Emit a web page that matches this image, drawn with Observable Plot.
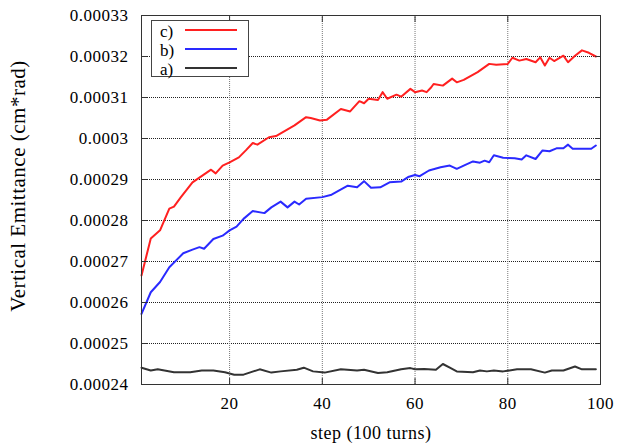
<!DOCTYPE html>
<html><head><meta charset="utf-8">
<script src="https://cdn.jsdelivr.net/npm/d3@7"></script>
<script src="https://cdn.jsdelivr.net/npm/@observablehq/plot@0.6"></script>
<style>
body{margin:0;background:#fff;}
#wrap{position:relative;width:618px;height:448px;}
#legend{position:absolute;left:151px;top:20px;width:96px;height:55px;border:1px solid #444;background:#fff;font-family:"Liberation Serif",serif;font-size:17px;}
.lab{position:absolute;left:8px;line-height:17px;height:17px;}
.ln{position:absolute;left:33px;width:52px;height:2px;}
</style>
</head><body>
<div id="wrap"></div>
<script>
// Series names and colors
const seriesNames = ["c)", "b)", "a)"];
const seriesColors = ["#ff2020", "#2a2aff", "#333333"];

// Series c) (red)
const stepsC = [1,3,5,7,8,9.5,12,16,17,18.5,20,22,23.5,25,26,28.5,30,34,36.5,37.5,39.5,41,44,46,48,49,50,52,53,54,56,57,59,60,61.5,62.5,63.5,64,66,68,69,70.5,73.5,76,77.5,80,81,82.5,84,86,87,88,89,90,92,93,94.5,96,97.5,99];
const valuesC = [26.66,27.56,27.76,28.29,28.34,28.57,28.93,29.24,29.15,29.34,29.42,29.54,29.71,29.89,29.85,30.03,30.06,30.32,30.52,30.50,30.44,30.46,30.72,30.66,30.91,30.86,30.97,30.94,31.13,30.97,31.07,31.02,31.21,31.13,31.17,31.13,31.25,31.33,31.29,31.46,31.37,31.43,31.62,31.82,31.80,31.82,31.97,31.90,31.94,31.86,31.98,31.78,31.97,31.89,32.02,31.86,32.02,32.15,32.09,32.00];

// Series b) (blue)
const stepsB = [1,3,5,7,10,12,13.5,14.5,16.5,18.5,20,21.5,23,25,27.5,29,31,32.5,34,35,36.5,40,42,45.5,47.5,49,50.5,52.5,54.5,57,58.5,60,61,63,65.5,67.5,69,70.5,72.5,74,75,76,77,79,81.5,83,84,86,87.5,89,90.5,92,93,94,96,98,99];
const valuesB = [25.72,26.25,26.50,26.86,27.20,27.29,27.35,27.31,27.55,27.63,27.76,27.85,28.04,28.23,28.18,28.32,28.46,28.32,28.46,28.39,28.53,28.57,28.63,28.85,28.81,28.96,28.80,28.81,28.93,28.95,29.06,29.11,29.08,29.22,29.30,29.34,29.26,29.34,29.44,29.41,29.46,29.42,29.59,29.53,29.52,29.49,29.59,29.50,29.71,29.69,29.76,29.76,29.85,29.75,29.75,29.75,29.83];

// Series a) (black)
const stepsA = [1,3,4.5,8,11.5,14,16.5,19,21,23,26.5,29,31,34.5,36,38,40.5,44,47.5,49,52,54,57,59,60,62,64.5,66,67.5,69,72.5,74,75.5,77,79,82,85,88,89.5,92,94.5,96,99];
const valuesA = [24.41,24.34,24.37,24.30,24.30,24.34,24.34,24.30,24.24,24.24,24.37,24.29,24.32,24.36,24.41,24.32,24.29,24.37,24.34,24.36,24.28,24.30,24.37,24.40,24.37,24.38,24.36,24.50,24.41,24.32,24.30,24.34,24.32,24.34,24.32,24.37,24.37,24.29,24.34,24.34,24.44,24.37,24.37];
const valueUnit = 1e-5;

// Ticks
const xTicks = [20, 40, 60, 80, 100];
const xGrid = [20, 40, 60, 80];
const yTicks = [0.00024,0.00025,0.00026,0.00027,0.00028,0.00029,0.0003,0.00031,0.00032,0.00033];
const yTickLabels = ["0.00024","0.00025","0.00026","0.00027","0.00028","0.00029","0.0003","0.00031","0.00032","0.00033"];
const yGrid = [0.00025,0.00026,0.00027,0.00028,0.00029,0.0003,0.00031,0.00032];
const xLabel = "step (100 turns)";
const yLabel = "Vertical Emittance (cm*rad)";

const data = [
  ...stepsC.map((s,i)=>({series:"c)", step:s, value:valuesC[i]*valueUnit})),
  ...stepsB.map((s,i)=>({series:"b)", step:s, value:valuesB[i]*valueUnit})),
  ...stepsA.map((s,i)=>({series:"a)", step:s, value:valuesA[i]*valueUnit}))
];

const chart = Plot.plot({
  width: 618, height: 448,
  marginLeft: 141, marginRight: 18, marginTop: 15, marginBottom: 64,
  style: {fontFamily: "'Liberation Serif', serif", fontSize: "17px", color: "#000", background: "#fff", letterSpacing: "0.5px"},
  x: {domain: [1, 100]},
  y: {domain: [0.00024, 0.00033]},
  color: {domain: seriesNames, range: seriesColors},
  marks: [
    Plot.gridY(yGrid, {stroke: "#222", strokeOpacity: 1, strokeDasharray: "1,1"}),
    Plot.gridX(xGrid, {stroke: "#777", strokeOpacity: 1, strokeDasharray: "1,1"}),
    Plot.line(data, {x: "step", y: "value", z: "series", stroke: "series", strokeWidth: 2}),
    Plot.frame({stroke: "#333"}),
    Plot.axisY(yTicks, {tickSize: 0, tickPadding: 13, tickFormat: (d, i) => yTickLabels[i], label: null}),
    Plot.axisY(yTicks, {tickSize: -6, tickFormat: () => "", label: null, stroke: "#333"}),
    Plot.axisY(yTicks, {anchor: "right", tickSize: -6, tickFormat: () => "", label: null, stroke: "#333"}),
    Plot.axisX(xTicks, {tickSize: 0, tickPadding: 12, label: null}),
    Plot.axisX(xGrid, {tickSize: -6, tickFormat: () => "", label: null, stroke: "#333"}),
    Plot.axisX(xGrid, {anchor: "top", tickSize: -6, tickFormat: () => "", label: null, stroke: "#333"}),
    Plot.text([xLabel], {frameAnchor: "bottom", dy: 54, fontSize: 18}),
    Plot.text([yLabel], {frameAnchor: "left", textAnchor: "middle", rotate: -90, dx: -123, dy: -14, fontSize: 21})
  ]
});
const wrap = document.getElementById("wrap");
wrap.appendChild(chart);

// Legend
const legend = document.createElement("div");
legend.id = "legend";
const rowLineTop = [8, 27, 46];
seriesNames.forEach((name, i) => {
  const lab = document.createElement("div");
  lab.className = "lab";
  lab.textContent = name;
  lab.style.top = (rowLineTop[i] - 6) + "px";
  legend.appendChild(lab);
  const ln = document.createElement("div");
  ln.className = "ln";
  ln.style.top = rowLineTop[i] + "px";
  ln.style.background = seriesColors[i];
  legend.appendChild(ln);
});
wrap.appendChild(legend);
</script>
</body></html>
